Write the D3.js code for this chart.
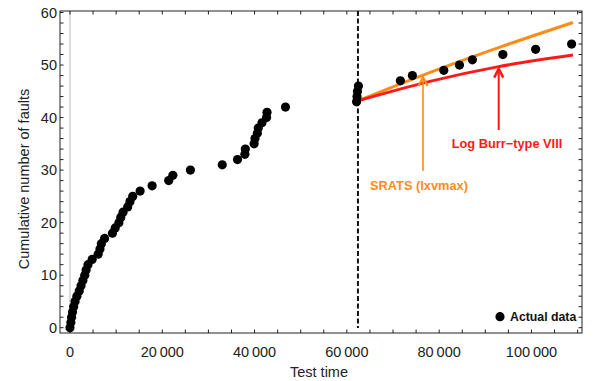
<!DOCTYPE html>
<html>
<head>
<meta charset="utf-8">
<script src="https://cdn.jsdelivr.net/npm/d3@7"></script>
<style>
  body { margin: 0; background: #fff; }
  svg text { font-family: "Liberation Sans", Arial, sans-serif; }
</style>
</head>
<body>
<svg width="594" height="381"></svg>
<script>
// fault times (cumulative count = index)
const faultTimes = [0, 200, 350, 550, 800, 1100, 1500, 2000, 2400, 2800,
    3200, 3500, 3900, 4800, 6100, 6500, 6800, 7500, 9200, 9800,
    10600, 11000, 11500, 12500, 13000, 13600, 15200, 17800, 21400, 22300,
    26100, 33000, 36300, 37900, 38000, 39900, 40100, 40600, 40800, 41600,
    42600, 42700, 46700, 62100, 62200, 62300, 62500, 71600, 74200, 81000,
    84400, 87200, 93800, 100900, 108700]
const faultCounts = faultTimes.map((t, i) => i)

const forecastStart = 62400
const sratsTimes = [62400, 76500, 93800, 109000]
const sratsValues = [43.2, 48.1, 53.6, 58.1]
const burrTimes = [62400, 78000, 92900, 109000]
const burrValues = [43.2, 46.9, 49.7, 51.9]

const xTicks = [0, 20000, 40000, 60000, 80000, 100000]
const yTicks = [0, 10, 20, 30, 40, 50, 60]

const svg = d3.select('svg')
const mLeft = 60, mRight = 582, mTop = 11, mBottom = 333

const x = d3.scaleLinear().domain([-2160, 110950]).range([mLeft, mRight])
const y = d3.scaleLinear().domain([-1.01, 60.29]).range([mBottom, mTop])

const fmt = d => d3.format(',')(d).replace(/,/g, '\u2009')

// light line at t = 0
svg.append('line')
    .attr('x1', x(0)).attr('x2', x(0))
    .attr('y1', mTop).attr('y2', mBottom)
    .attr('stroke', '#dcdcdc').attr('stroke-width', 2)

// frame ticks (inward), every 5000 / every 2
const minorX = d3.range(0, 110001, 5000)
const minorY = d3.range(0, 61, 2)
const tk = svg.append('g').attr('stroke', '#222').attr('stroke-width', 1)
minorX.forEach(t => {
    tk.append('line').attr('x1', x(t)).attr('x2', x(t)).attr('y1', mBottom).attr('y2', mBottom - 3.5)
    tk.append('line').attr('x1', x(t)).attr('x2', x(t)).attr('y1', mTop).attr('y2', mTop + 3.5)
})
minorY.forEach(v => {
    tk.append('line').attr('x1', mLeft).attr('x2', mLeft + 3.5).attr('y1', y(v)).attr('y2', y(v))
    tk.append('line').attr('x1', mRight).attr('x2', mRight - 3.5).attr('y1', y(v)).attr('y2', y(v))
})

svg.append('rect')
    .attr('x', mLeft).attr('y', mTop)
    .attr('width', mRight - mLeft).attr('height', mBottom - mTop)
    .attr('fill', 'none').attr('stroke', '#222').attr('stroke-width', 1)

// tick labels
svg.selectAll('.xl').data(xTicks).enter().append('text')
    .attr('x', d => x(d)).attr('y', mBottom + 24)
    .attr('text-anchor', 'middle').attr('font-size', 14.5).attr('fill', '#222')
    .text(fmt)
svg.selectAll('.yl').data(yTicks).enter().append('text')
    .attr('x', mLeft - 3).attr('y', d => y(d) + 5)
    .attr('text-anchor', 'end').attr('font-size', 14.5).attr('fill', '#222')
    .text(d => d)

// axis titles
svg.append('text')
    .attr('transform', `translate(29,${(mTop + mBottom) / 2 + 7}) rotate(-90)`)
    .attr('text-anchor', 'middle').attr('font-size', 14.5).attr('fill', '#222')
    .text('Cumulative number of faults')
svg.append('text')
    .attr('x', 290).attr('y', 377)
    .attr('font-size', 14.5).attr('fill', '#222')
    .text('Test time')

// forecast start
svg.append('line')
    .attr('x1', x(forecastStart)).attr('x2', x(forecastStart))
    .attr('y1', mTop).attr('y2', mBottom - 5)
    .attr('stroke', '#111').attr('stroke-width', 2)
    .attr('stroke-dasharray', '5,2.5')

// model curves
const modelLine = d3.line().x(d => x(d[0])).y(d => y(d[1])).curve(d3.curveMonotoneX)
svg.append('path')
    .attr('d', modelLine(d3.zip(sratsTimes, sratsValues)))
    .attr('fill', 'none').attr('stroke', '#ff8c1a').attr('stroke-width', 3)
svg.append('path')
    .attr('d', modelLine(d3.zip(burrTimes, burrValues)))
    .attr('fill', 'none').attr('stroke', '#ff1a1a').attr('stroke-width', 3)

// data points
svg.append('g').selectAll('circle')
    .data(d3.zip(faultTimes, faultCounts))
    .enter().append('circle')
    .attr('cx', d => x(d[0])).attr('cy', d => y(d[1]))
    .attr('r', 4.6).attr('fill', '#000')

// annotation arrows
function arrow(t, v, yEnd, color, w) {
    const ax = x(t), ay = y(v) + 2
    svg.append('line')
        .attr('x1', ax).attr('x2', ax).attr('y1', yEnd).attr('y2', ay + 2)
        .attr('stroke', color).attr('stroke-width', w)
    svg.append('path')
        .attr('d', `M${ax - 4.5},${ay + 9} L${ax},${ay} L${ax + 4.5},${ay + 9}`)
        .attr('fill', 'none').attr('stroke', color).attr('stroke-width', w + 0.5)
}
arrow(76500, 48.1, 171, '#ff8c1a', 1.6)
arrow(92900, 49.7, 130, '#ff1a1a', 2)

svg.append('text')
    .attr('x', 507).attr('y', 147.5).attr('text-anchor', 'middle')
    .attr('font-size', 12.8).attr('font-weight', 'bold').attr('fill', '#ff1a1a')
    .text('Log Burr\u2212type VIII')
svg.append('text')
    .attr('x', 419).attr('y', 190).attr('text-anchor', 'middle')
    .attr('font-size', 12.8).attr('font-weight', 'bold').attr('fill', '#ff8c1a')
    .text('SRATS (lxvmax)')

// legend
svg.append('circle').attr('cx', 500).attr('cy', 316.7).attr('r', 4.6).attr('fill', '#000')
svg.append('text')
    .attr('x', 510).attr('y', 321)
    .attr('font-size', 12.3).attr('font-weight', 'bold').attr('fill', '#111')
    .text('Actual data')
</script>
</body>
</html>
